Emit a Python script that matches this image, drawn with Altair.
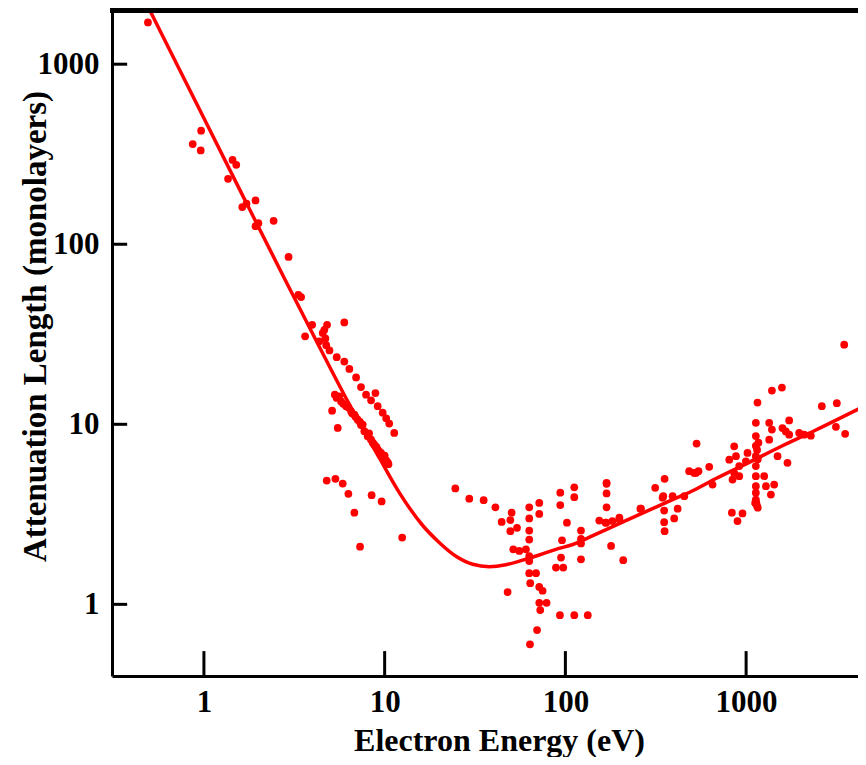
import altair as alt
import pandas as pd

# ---- scatter data: electron energy (eV) and attenuation length (monolayers)
energy = [
    0.49, 0.965, 0.867, 0.96, 1.44, 1.51, 1.36, 1.63, 1.72, 1.93, 1.93, 2.0, 2.43, 2.94,
    3.45, 3.33, 3.97, 4.80, 4.64, 5.98, 3.63, 4.35, 4.54, 4.95, 5.43, 5.98, 6.38, 6.95,
    7.40, 7.89, 8.89, 8.41, 9.15, 9.75, 10.2, 10.6, 11.3,
    5.43, 5.74, 6.12, 6.52, 6.80, 7.09, 7.56, 7.72, 8.05, 8.41, 8.77, 9.15, 9.55, 9.96,
    10.4, 5.12, 5.50, 5.6, 6.3, 6.9, 7.3, 8.2, 9.0, 9.8, 10.2,
    5.3, 5.9, 6.6, 7.4, 8.6, 9.3, 10.0, 10.5, 4.7, 4.75,
    4.78, 5.34, 5.86, 6.30, 8.47, 9.62, 6.80, 12.5, 7.31,
    24.6, 29.4, 35.3, 41.0, 50.4, 44.4, 49.6, 54.0, 49.6, 51.5, 55.6, 60.5, 63.1, 63.1,
    71.7, 71.7, 63.1, 63.1, 63.1, 63.1, 63.1, 68.8, 63.9, 71.7, 74.8, 47.9, 71.7, 78.7,
    72.6, 69.7, 63.7, 93.3, 112, 133, 93.7, 93.7, 112, 112, 102, 95.8, 94.6, 88.7, 97.3,
    122, 122, 122, 122, 169, 169, 169, 168, 179, 209, 199, 262, 314, 354, 348, 392, 352,
    418, 400, 352, 354, 455, 154,
    516, 545, 625, 652, 345, 260, 199, 169, 167, 182,
    532, 484, 528, 859, 879, 916, 859, 916, 841,
    1132, 1132, 1132, 1132, 1132, 1132, 1132, 1132, 1132, 1122, 1150,
    1342, 1389, 1342, 1589, 1659, 1731, 1731, 1967, 2096, 1493, 1694, 1430, 1371, 1259,
    1287, 1140, 1160, 834, 955, 896, 997, 1018, 807,
    1578, 1389, 1156, 3490, 2624, 3177, 3140, 3532, 4446, 2281, 1170, 1150, 1160,
]
atten = [
    1706, 427, 360, 332, 294, 276, 231, 161, 168, 175, 126, 131, 135, 85,
    50.9, 52.4, 35.7, 35.7, 33.5, 36.8, 30.8, 28.9, 32.1, 25.7, 23.6, 22.3, 20.3, 18.2,
    16.1, 14.6, 14.9, 13.6, 12.6, 11.6, 10.8, 10.1, 8.96,
    14.0, 13.4, 12.6, 11.8, 11.3, 10.6, 9.96, 9.15, 8.58, 8.22, 7.71, 7.24, 6.94, 6.51,
    6.15, 11.9, 9.55, 14.3, 12.4, 11.0, 10.3, 8.9, 7.5, 6.7, 6.3,
    14.6, 13.0, 11.5, 9.9, 7.9, 7.1, 6.7, 6.0, 30.0, 27.5,
    4.87, 4.98, 4.69, 4.11, 4.04, 3.73, 3.23, 2.35, 2.09,
    4.40, 3.86, 3.79, 3.46, 3.23, 2.87, 2.94, 2.66, 2.55, 2.02, 1.98, 2.02, 1.85, 3.46,
    3.66, 3.18, 3.00, 2.57, 2.29, 1.74, 1.49, 1.49, 1.31, 1.25, 1.19, 1.17, 1.02, 1.02,
    0.93, 0.72, 0.60, 0.87, 0.87, 0.87, 4.17, 3.56, 4.47, 3.94, 2.84, 2.27, 1.82, 1.60, 1.60,
    2.57, 2.31, 2.18, 1.78, 4.67, 4.13, 3.46, 2.84, 2.11, 1.76, 2.96, 3.40, 4.44, 4.98, 3.99, 3.99, 3.32,
    3.40, 3.00, 2.86, 2.55, 3.99, 2.92,
    5.37, 5.49, 5.81, 4.63, 3.91, 3.40, 3.03, 4.73, 2.84, 2.90,
    7.82, 5.49, 5.37, 7.55, 6.65, 5.86, 5.37, 5.15, 4.93,
    10.2, 8.6, 7.6, 6.65, 5.86, 5.15, 4.53, 4.17, 3.82, 3.66, 3.51,
    10.2, 9.35, 8.22, 9.53, 9.13, 8.76, 10.5, 8.96, 8.76, 6.65, 6.11, 4.63, 4.07, 5.15,
    4.53, 3.66, 3.44, 3.23, 3.20, 2.90, 6.23, 6.93, 6.36,
    16.0, 15.4, 13.2, 27.7, 12.6, 13.1, 9.68, 8.85, 9.46, 8.65, 7.9, 7.2, 6.4,
]

# ---- fitted "universal curve"
curve_energy = [0.5, 0.73, 1.57, 2.79, 4.17, 6.3, 9.35, 12.1, 16.2, 20.1, 24.8, 30.7,
                37.9, 46.9, 58.0, 71.7, 88.7, 110, 136, 168, 207, 256, 317, 392, 484,
                681, 1040, 1589, 2432, 4560]
curve_atten = [2006, 941, 203, 64.5, 29.3, 13.2, 6.5, 4.15, 2.75, 2.2, 1.85, 1.67,
               1.62, 1.66, 1.76, 1.88, 2.02, 2.15, 2.36, 2.6, 2.86, 3.15, 3.47, 3.82, 4.18,
               5.0, 6.15, 7.6, 9.3, 12.7]

x_ticks = [1, 10, 100, 1000]
y_ticks = [1, 10, 100, 1000]

X_MIN, X_MAX = 0.31, 4160
Y_MIN, Y_MAX = 0.4, 2000
# inward tick extents, in data units (about 25 px up / 16 px right)
XTICK_TOP = 0.55
YTICK_RIGHT = 0.376

pts = pd.DataFrame({"E": energy, "L": atten})
crv = pd.DataFrame({"E": curve_energy, "L": curve_atten})
xt = pd.DataFrame({"E": x_ticks, "L": [Y_MIN] * 4, "L2": [XTICK_TOP] * 4})
yt = pd.DataFrame({"L": y_ticks, "E": [X_MIN] * 4, "E2": [YTICK_RIGHT] * 4})

W, H = 746, 666
FONT = "Liberation Serif"
RED = "#ff0000"

xs = alt.Scale(type="log", domain=[X_MIN, X_MAX], nice=False)
ys = alt.Scale(type="log", domain=[Y_MIN, Y_MAX], nice=False)

x_axis = alt.Axis(
    orient="bottom",
    values=x_ticks, format="d", grid=False, ticks=False, tickSize=0,
    domainColor="black", domainWidth=3,
    labelFont=FONT, labelFontWeight="bold", labelFontSize=31, labelColor="black",
    labelBaseline="alphabetic", labelPadding=35,
    title="Electron Energy (eV)", titleFont=FONT, titleFontWeight="bold",
    titleFontSize=32, titleColor="black", titleX=387, titleY=74,
    titleAlign="center", titleBaseline="alphabetic", titleAngle=0,
)
y_axis = alt.Axis(
    orient="left",
    values=y_ticks, format="d", grid=False, ticks=False, tickSize=0,
    domainColor="black", domainWidth=3,
    labelFont=FONT, labelFontWeight="bold", labelFontSize=31, labelColor="black",
    labelPadding=13,
    title="Attenuation Length (monolayers)", titleFont=FONT, titleFontWeight="bold",
    titleFontSize=33, titleColor="black", titleX=-67, titleY=316,
    titleAlign="center", titleBaseline="alphabetic", titleAngle=270,
)

scatter = alt.Chart(pts).mark_circle(size=60, color=RED, opacity=1).encode(
    x=alt.X("E:Q", scale=xs, axis=x_axis),
    y=alt.Y("L:Q", scale=ys, axis=y_axis),
)

line = alt.Chart(crv).mark_line(color=RED, strokeWidth=3.5, clip=True,
                                interpolate="monotone").encode(
    x=alt.X("E:Q", scale=xs, axis=x_axis),
    y=alt.Y("L:Q", scale=ys, axis=y_axis),
)

xtick_marks = alt.Chart(xt).mark_rule(color="black", strokeWidth=3).encode(
    x=alt.X("E:Q", scale=xs, axis=x_axis),
    y=alt.Y("L:Q", scale=ys, axis=y_axis),
    y2="L2:Q",
)

ytick_marks = alt.Chart(yt).mark_rule(color="black", strokeWidth=3).encode(
    y=alt.Y("L:Q", scale=ys, axis=y_axis),
    x=alt.X("E:Q", scale=xs, axis=x_axis),
    x2="E2:Q",
)

top_border = alt.Chart(crv).mark_rule(color="black", strokeWidth=6).encode(
    x=alt.value(-2),
    x2=alt.value(W),
    y=alt.value(0),
)

chart = alt.layer(scatter, line, xtick_marks, ytick_marks, top_border).properties(
    width=W, height=H,
    autosize=alt.AutoSizeParams(type="none"),
    padding={"left": 104, "top": 2, "right": 0, "bottom": 81},
    background="white",
).configure_view(stroke="transparent")

chart.save("out.html", embed_options={"renderer": "svg", "actions": False})
